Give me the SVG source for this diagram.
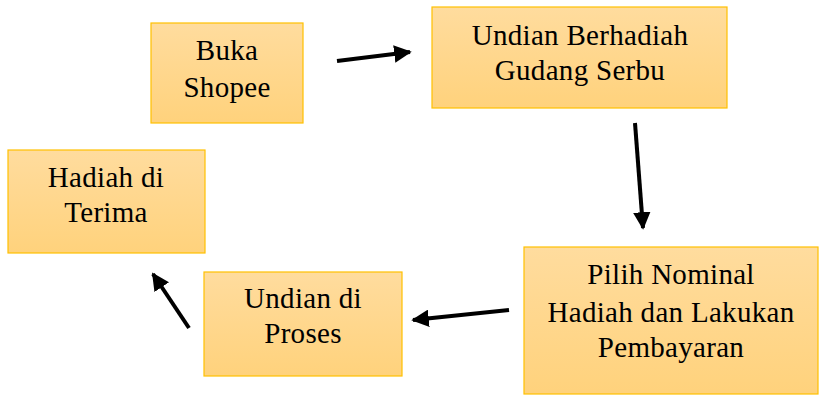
<svg xmlns="http://www.w3.org/2000/svg" width="820" height="395" viewBox="0 0 820 395">
<defs>
<linearGradient id="g" x1="0" y1="0" x2="0" y2="1">
<stop offset="0" stop-color="#FFDC9E"/>
<stop offset="1" stop-color="#FFD27C"/>
</linearGradient>
<marker id="ah" viewBox="0 0 10 10" refX="9" refY="5" markerWidth="4.4" markerHeight="4.4" orient="auto" markerUnits="strokeWidth">
<path d="M0,0 L10,5 L0,10 z" fill="#000"/>
</marker>
</defs>
<style>
.box{fill:url(#g);stroke:#FFC000;stroke-width:1.2}
.t{font-family:"Liberation Serif","Times New Roman",serif;font-size:29px;letter-spacing:0.3px;fill:#000;text-anchor:middle}
.c{stroke:#000;stroke-width:4;fill:none;marker-end:url(#ah)}
</style>
<rect width="820" height="395" fill="#fff"/>
<g id="n1">
<rect class="box" x="151" y="23" width="152" height="100"/>
<text class="t" x="227" y="60">Buka</text>
<text class="t" x="227" y="97">Shopee</text>
</g>
<g id="n2">
<rect class="box" x="432" y="7" width="295" height="101"/>
<text class="t" x="580" y="45">Undian Berhadiah</text>
<text class="t" x="580" y="80">Gudang Serbu</text>
</g>
<g id="n3">
<rect class="box" x="524" y="247" width="294" height="147"/>
<text class="t" x="671" y="284">Pilih Nominal</text>
<text class="t" x="671" y="322">Hadiah dan Lakukan</text>
<text class="t" x="671" y="357">Pembayaran</text>
</g>
<g id="n4">
<rect class="box" x="204" y="272" width="198" height="104"/>
<text class="t" x="303" y="308">Undian di</text>
<text class="t" x="303" y="343">Proses</text>
</g>
<g id="n5">
<rect class="box" x="8" y="150" width="197" height="103"/>
<text class="t" x="106" y="187">Hadiah di</text>
<text class="t" x="106" y="222">Terima</text>
</g>
<g id="connectors">
<line class="c" x1="337" y1="61" x2="410" y2="52"/>
<line class="c" x1="635" y1="123" x2="643" y2="228"/>
<line class="c" x1="509" y1="310" x2="413" y2="320"/>
<line class="c" x1="189" y1="328" x2="153" y2="274"/>
</g>
</svg>
